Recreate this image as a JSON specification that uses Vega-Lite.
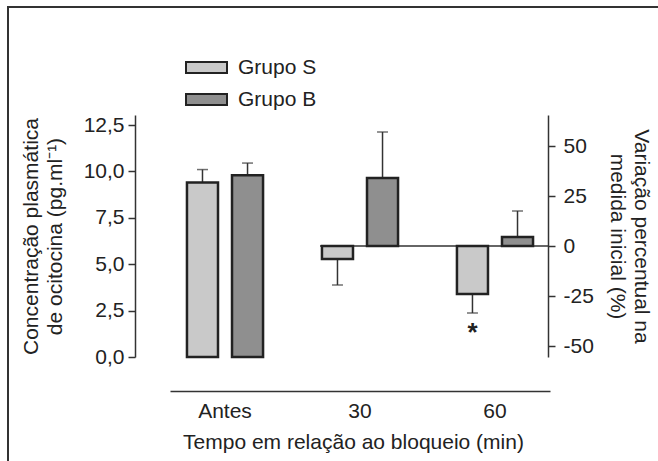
{
  "$schema": "https://vega.github.io/schema/vega-lite/v6.json",
  "width": 660,
  "height": 460,
  "padding": {"left": 8, "top": 7, "right": 0, "bottom": 0},
  "background": "white",
  "config": {
    "font": "Liberation Sans",
    "view": {"stroke": "#333333", "strokeWidth": 2, "fill": "white"},
    "axis": {
      "grid": false,
      "domainColor": "#333333",
      "domainWidth": 1.5,
      "tickColor": "#333333",
      "tickWidth": 1.5,
      "labelColor": "#222222",
      "titleColor": "#222222",
      "labelFontSize": 21,
      "titleFontSize": 21,
      "titleFontWeight": "normal",
      "titleLineHeight": 24
    }
  },
  "data": {
    "values": [
      {"tempo": "Antes", "grupo": "Grupo S", "valor": 9.4, "extremo": 10.1, "sinal": ""},
      {"tempo": "Antes", "grupo": "Grupo B", "valor": 9.8, "extremo": 10.45, "sinal": ""},
      {"tempo": "30", "grupo": "Grupo S", "valor": -6.5, "extremo": -19.5, "sinal": ""},
      {"tempo": "30", "grupo": "Grupo B", "valor": 34, "extremo": 57, "sinal": ""},
      {"tempo": "60", "grupo": "Grupo S", "valor": -24, "extremo": -33.5, "sinal": "*"},
      {"tempo": "60", "grupo": "Grupo B", "valor": 4.5, "extremo": 17.5, "sinal": ""}
    ]
  },
  "layer": [
    {
      "transform": [{"filter": "datum.tempo === 'Antes'"}],
      "encoding": {
        "x": {
          "field": "tempo",
          "type": "nominal",
          "sort": ["Antes", "30", "60"],
          "scale": {"domain": ["Antes", "30", "60"], "range": [162, 542], "paddingInner": 0.407, "paddingOuter": 0.111},
          "axis": {
            "orient": "bottom",
            "offset": -76,
            "ticks": false,
            "labelAngle": 0,
            "labelPadding": 9,
            "titlePadding": 10,
            "titleX": 345,
            "title": "Tempo em relação ao bloqueio (min)"
          }
        },
        "xOffset": {
          "field": "grupo",
          "type": "nominal",
          "sort": ["Grupo S", "Grupo B"],
          "scale": {"domain": ["Grupo S", "Grupo B"], "paddingInner": 0.311, "paddingOuter": 0.044}
        },
        "y": {
          "field": "valor",
          "type": "quantitative",
          "scale": {"domain": [0, 13.04], "range": [350, 108], "nice": false, "zero": false},
          "axis": {
            "orient": "left",
            "offset": -127,
            "values": [0, 2.5, 5, 7.5, 10, 12.5],
            "labelExpr": "replace(format(datum.value, '.1f'), '.', ',')",
            "tickSize": 7,
            "labelPadding": 4,
            "titlePadding": 18,
            "title": ["Concentração plasmática", "de ocitocina (pg.ml⁻¹)"]
          }
        }
      },
      "layer": [
        {
          "mark": {"type": "rule", "color": "#333333", "strokeWidth": 1.5},
          "encoding": {"y2": {"field": "extremo"}}
        },
        {
          "mark": {"type": "tick", "color": "#333333", "thickness": 1.5, "size": 11},
          "encoding": {"y": {"field": "extremo", "type": "quantitative"}}
        },
        {
          "mark": {"type": "bar", "stroke": "#222222", "strokeWidth": 2.5},
          "encoding": {
            "y2": {"datum": 0},
            "fill": {
              "field": "grupo",
              "type": "nominal",
              "scale": {"domain": ["Grupo S", "Grupo B"], "range": ["#c9c9c9", "#8f8f8f"]},
              "legend": {
                "orient": "none",
                "legendX": 177,
                "legendY": 39,
                "title": null,
                "symbolType": "M-1,-0.27H1V0.27H-1Z",
                "symbolSize": 1681,
                "symbolStrokeColor": "#222222",
                "symbolStrokeWidth": 2,
                "labelFontSize": 21,
                "labelColor": "#222222",
                "labelOffset": 10,
                "rowPadding": 0
              }
            }
          }
        }
      ]
    },
    {
      "layer": [
        {
          "data": {"values": [{"base": 0}]},
          "mark": {"type": "rule", "color": "#333333", "strokeWidth": 1.5},
          "encoding": {
            "x": {"datum": "30", "type": "nominal", "bandPosition": 0},
            "x2": {"datum": "60", "bandPosition": 1.1625},
            "y": {"field": "base", "type": "quantitative"}
          }
        },
        {
          "transform": [{"filter": "datum.tempo !== 'Antes'"}],
          "encoding": {
            "x": {
              "field": "tempo",
              "type": "nominal",
              "sort": ["Antes", "30", "60"],
              "axis": {
                "orient": "bottom",
                "offset": -76,
                "ticks": false,
                "labelAngle": 0,
                "labelPadding": 9,
                "titlePadding": 10,
                "titleX": 345,
                "title": "Tempo em relação ao bloqueio (min)"
              }
            },
            "xOffset": {"field": "grupo", "type": "nominal", "sort": ["Grupo S", "Grupo B"]},
            "y": {"field": "valor", "type": "quantitative"}
          },
          "layer": [
            {
              "mark": {"type": "rule", "color": "#333333", "strokeWidth": 1.5},
              "encoding": {"y2": {"field": "extremo"}}
            },
            {
              "mark": {"type": "tick", "color": "#333333", "thickness": 1.5, "size": 11},
              "encoding": {"y": {"field": "extremo", "type": "quantitative"}}
            },
            {
              "mark": {"type": "bar", "stroke": "#222222", "strokeWidth": 2.5},
              "encoding": {
                "y2": {"datum": 0},
                "fill": {"field": "grupo", "type": "nominal"}
              }
            },
            {
              "mark": {"type": "text", "fontSize": 26, "fontWeight": "bold", "color": "#222222", "baseline": "top", "dy": 7},
              "encoding": {
                "y": {"field": "extremo", "type": "quantitative"},
                "text": {"field": "sinal"}
              }
            }
          ]
        }
      ],
      "encoding": {
        "y": {
          "type": "quantitative",
          "scale": {"domain": [-55.5, 65.5], "range": [350, 108], "nice": false, "zero": false},
          "axis": {
            "orient": "right",
            "offset": -120,
            "values": [-50, -25, 0, 25, 50],
            "labelExpr": "toString(datum.value)",
            "tickSize": 7,
            "labelPadding": 8,
            "titlePadding": 13,
            "titleAngle": 90,
            "title": ["Variação percentual na", "medida inicial (%)"]
          }
        }
      }
    }
  ],
  "resolve": {"scale": {"y": "independent"}, "axis": {"y": "independent"}}
}
